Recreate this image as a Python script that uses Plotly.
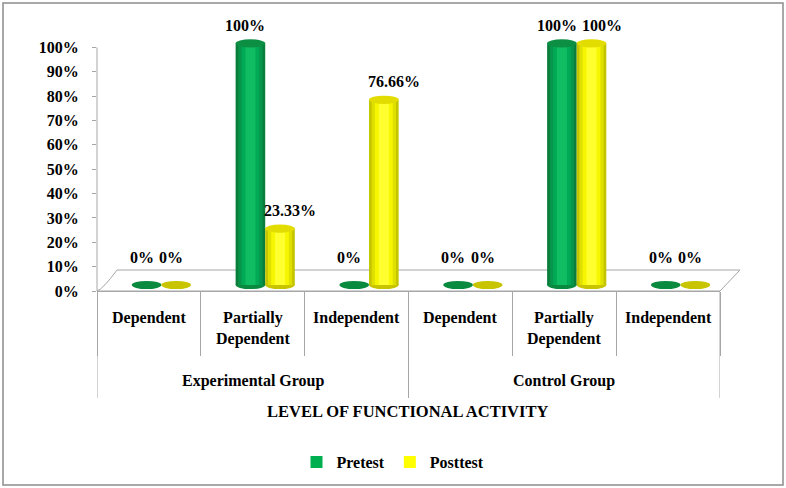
import plotly.graph_objects as go

# ---------------- data ----------------
group_names = ["Experimental Group", "Control Group"]
levels = ["Dependent", "Partially<br>Dependent", "Independent"] * 2
groups = [group_names[0]] * 3 + [group_names[1]] * 3
pretest = [0, 100, 0, 0, 100, 0]
posttest = [0, 23.33, 76.66, 0, 100, 0]
series_names = ["Pretest", "Posttest"]
y_ticks = [0, 10, 20, 30, 40, 50, 60, 70, 80, 90, 100]
x_title = "LEVEL OF FUNCTIONAL ACTIVITY"

# ---------------- layout constants ----------------
W, H = 786, 488
L, R, T, B = 97, 66, 23, 197
PW, PH = W - L - R, H - T - B
def px(x):
    return (x - L) / PW
def py(y):
    return (H - B - y) / PH

Y1 = [0, 110]
Y2 = [-2.48, 108.43]
FONT = "Liberation Serif, Times New Roman, serif"
GRAY = "#a6a6a6"
xpos = list(range(len(levels)))

styles = {
    "Pretest": dict(off=-0.165, w=0.285, xshift=(-5, -5),
                    layers=[(1.0, "#0a7d3a"), (0.82, "#06954a"), (0.6, "#00a955"), (0.34, "#10bd62")],
                    top="#0c8f43", bottom="#0a8a3e", legend="#00b050"),
    "Posttest": dict(off=0.12, w=0.285, xshift=(-5, 10),
                     layers=[(1.0, "#c4c400"), (0.82, "#e0e000"), (0.6, "#f6f600"), (0.34, "#ffff30")],
                     top="#e2dc00", bottom="#c8c400", legend="#ffff00"),
}

fig = go.Figure()
shapes = []
annotations = []
EH = 1.7  # ellipse half height (y2 units)

for name, vals in zip(series_names, [pretest, posttest]):
    st = styles[name]
    for frac, col in st["layers"]:
        width = st["w"] * frac
        off = st["off"] + st["w"] * (1 - frac) / 2
        fig.add_trace(go.Bar(
            x=xpos, y=vals, base=0, width=width, offset=off,
            marker=dict(color=col, line=dict(width=0)),
            yaxis="y2", name=name, showlegend=False, hoverinfo="skip",
        ))
    # legend entry
    fig.add_trace(go.Bar(x=[None], y=[None], name=name,
                         marker=dict(color=st["legend"], line=dict(width=0)),
                         showlegend=True))
    for i, v in zip(xpos, vals):
        x0 = i + st["off"]
        x1 = x0 + st["w"]
        shapes.append(dict(type="circle", xref="x", yref="y2", x0=x0, x1=x1,
                           y0=-EH, y1=EH, fillcolor=st["bottom"],
                           line=dict(width=0), layer="below"))
        if v > 0:
            shapes.append(dict(type="circle", xref="x", yref="y2", x0=x0, x1=x1,
                               y0=v - EH, y1=v + EH, fillcolor=st["top"],
                               line=dict(width=0), layer="above"))
        annotations.append(dict(x=(x0 + x1) / 2, y=v, xref="x", yref="y2",
                                text=f"<b>{v:g}%</b>", showarrow=False,
                                yanchor="middle", yshift=(28 if v == 0 else 18),
                                xshift=st["xshift"][0 if v == 0 else 1],
                                font=dict(family=FONT, size=16, color="#000")))

# category labels (first level)
for i, lab in zip(xpos, levels):
    annotations.append(dict(x=i, y=py(307), xref="x", yref="paper", text=f"<b>{lab}</b>",
                            showarrow=False, yanchor="top",
                            font=dict(family=FONT, size=16, color="#000")))
# group labels (second level) + group dividers
n_per = len(levels) // len(group_names)
for g, gname in enumerate(group_names):
    members = [i for i, gg in zip(xpos, groups) if gg == gname]
    annotations.append(dict(x=sum(members) / len(members), y=py(381), xref="x", yref="paper",
                            text=f"<b>{gname}</b>", showarrow=False, yanchor="middle",
                            font=dict(family=FONT, size=16, color="#000")))
for b in [-0.5 + k * n_per for k in range(len(group_names) + 1)]:
    shapes.append(dict(type="line", xref="x", yref="paper", x0=b, x1=b,
                       y0=py(291), y1=py(398), line=dict(color=GRAY, width=1)))

# floor (3D base) back and right edges
fl, fr, fb, ff, dx = 97, 720, 270, 291, 20
shapes.append(dict(type="path", xref="paper", yref="paper",
                   path=f"M {px(fl)},{py(ff)} Q {px(fl+6)},{py(ff-2)} {px(fl+dx)},{py(fb)} L {px(fr+dx)},{py(fb)} L {px(fr)},{py(ff)} Z",
                   line=dict(color=GRAY, width=1), fillcolor="rgba(0,0,0,0)", layer="below"))
# y axis line 0..100
shapes.append(dict(type="line", xref="paper", yref="y", x0=0, x1=0, y0=y_ticks[0], y1=y_ticks[-1],
                   line=dict(color=GRAY, width=1)))
# outer border
shapes.append(dict(type="rect", xref="paper", yref="paper",
                   x0=px(3), x1=px(783), y0=py(485), y1=py(3),
                   line=dict(color="#8c8c8c", width=1.5), fillcolor="rgba(0,0,0,0)", layer="below"))

annotations.append(dict(x=px(407), y=py(411), xref="paper", yref="paper", text=f"<b>{x_title}</b>",
                        showarrow=False, yanchor="middle",
                        font=dict(family=FONT, size=16.5, color="#000")))

fig.update_layout(
    width=W, height=H,
    margin=dict(l=L, r=R, t=T, b=B, autoexpand=False),
    paper_bgcolor="white", plot_bgcolor="rgba(0,0,0,0)",
    barmode="overlay",
    shapes=shapes, annotations=annotations,
    showlegend=True,
    legend=dict(orientation="h", xref="container", x=0.5, xanchor="center",
                yref="container", y=0.053, yanchor="middle",
                font=dict(family=FONT, size=16, color="#000", weight="bold"),
                itemwidth=30, traceorder="normal"),
    xaxis=dict(range=[-0.5, len(levels) - 0.5], showline=True, linecolor=GRAY, linewidth=1,
               showticklabels=False, ticks="", tickvals=xpos,
               minor=dict(tickvals=[i - 0.5 for i in range(len(levels) + 1)], ticks="outside",
                          ticklen=64, tickcolor=GRAY, tickwidth=1, showgrid=False),
               showgrid=False, zeroline=False, fixedrange=True),
    yaxis=dict(range=Y1, tickmode="array", tickvals=y_ticks, ticktext=[f"{v}%" for v in y_ticks],
               showgrid=False, zeroline=False, showline=False,
               ticks="outside", ticklen=4, tickcolor=GRAY, ticklabelstandoff=10,
               tickfont=dict(family=FONT, size=16, color="#000", weight="bold")),
    yaxis2=dict(range=Y2, overlaying="y", visible=False),
)

fig.write_html("out.html")
